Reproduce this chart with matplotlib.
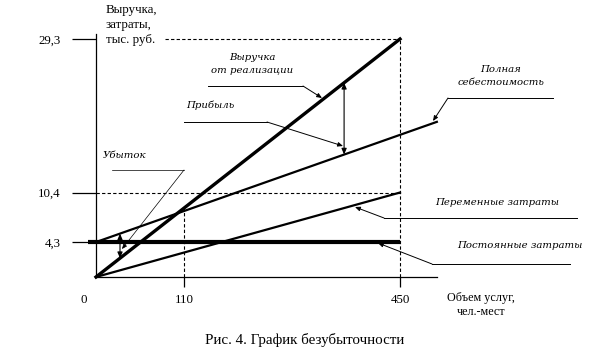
import numpy as np
import matplotlib
matplotlib.use("Agg")
import matplotlib.pyplot as plt
from matplotlib.transforms import ScaledTranslation

# ---------------- data ----------------
x_ticks = [0, 110, 450]
x_tick_labels = ["0", "110", "450"]
y_ticks = [4.3, 10.4, 29.3]
y_tick_labels = ["4,3", "10,4", "29,3"]

volume_max = 450          # объём услуг, чел.-мест
breakeven_volume = 110
revenue_max = 29.3        # выручка при 450
variable_max = 10.4       # переменные затраты при 450
fixed_costs = 4.3         # постоянные затраты
total_cost_x = [0, 508]   # полная себестоимость (схематично)
total_cost_y = [4.3, 19.1]
fixed_x = [-10, 450]
profit_arrow_x = 362
loss_arrow_x = 30

# ---------------- scale (schematic, non-uniform x) ----------------
KX = np.array([0.0, 110.0, 450.0])
KP = np.array([0.0, 88.0, 304.0])
s1 = (KP[1] - KP[0]) / (KX[1] - KX[0])
s2 = (KP[2] - KP[1]) / (KX[2] - KX[1])


def fwd(x):
    x = np.asarray(x, dtype=float)
    return np.where(x < KX[1], x * s1, KP[1] + (x - KX[1]) * s2)


def inv(p):
    p = np.asarray(p, dtype=float)
    return np.where(p < KP[1], p / s1, KX[1] + (p - KP[1]) / s2)


def on_line(x, x0, y0, x1, y1):
    """y on a segment that is straight on screen (interpolated in scale space)."""
    t = (fwd(x) - fwd(x0)) / (fwd(x1) - fwd(x0))
    return float(y0 + t * (y1 - y0))


W, H = 589, 361
fig = plt.figure(figsize=(W / 100, H / 100), dpi=100)
fig.patch.set_facecolor("white")
ax = fig.add_axes([96 / W, (H - 277) / H, 304 / W, 238 / H])
ax.set_xscale("function", functions=(fwd, inv))
ax.set_xlim(0, volume_max)
ax.set_ylim(0, revenue_max)
for sp in ax.spines.values():
    sp.set_visible(False)
ax.patch.set_visible(False)

serif = ["Liberation Serif", "DejaVu Serif"]
ital = ["DejaVu Serif", "Liberation Serif"]

# axes lines
ax.plot([0, 0], [0, 29.9], color="black", lw=0.9, clip_on=False)
ax.plot([0, 509], [0, 0], color="black", lw=0.9, clip_on=False)

# ticks
ax.set_yticks(y_ticks)
ax.set_yticklabels(y_tick_labels, fontfamily=serif, fontsize=9.3)
ax.tick_params(axis="y", length=17.3, width=0.9, pad=8, direction="out")
ax.set_xticks(x_ticks)
ax.set_xticklabels(x_tick_labels, fontfamily=serif, fontsize=9.3)
ax.tick_params(axis="x", length=7, width=0.9, pad=5, direction="out")
ax.xaxis.set_minor_locator(matplotlib.ticker.NullLocator())
t0 = ax.xaxis.get_major_ticks()[0]
t0.tick1line.set_visible(False)
t0.label1.set_transform(t0.label1.get_transform() +
                        ScaledTranslation(-0.12, 0, fig.dpi_scale_trans))

# dashed guide lines
dash = dict(color="black", lw=0.8, linestyle=(0, (3, 2)), clip_on=False)
ax.plot([86, volume_max], [revenue_max, revenue_max], **dash)
ax.plot([volume_max, volume_max], [0, revenue_max], **dash)
ax.plot([0, volume_max], [variable_max, variable_max], **dash)
be_y = on_line(breakeven_volume, 0, 0, volume_max, revenue_max)
ax.plot([breakeven_volume, breakeven_volume], [0, be_y], **dash)

# main lines
ax.plot(fixed_x, [fixed_costs, fixed_costs], color="black", lw=3.0,
        solid_capstyle="butt", clip_on=False)
ax.plot([0, volume_max], [0, variable_max], color="black", lw=1.6, clip_on=False)
ax.plot(total_cost_x, total_cost_y, color="black", lw=1.6, clip_on=False)
ax.plot([0, volume_max], [0, revenue_max], color="black", lw=2.4, clip_on=False)

# profit / loss double arrows
def tc(x):
    return on_line(x, total_cost_x[0], total_cost_y[0], total_cost_x[1], total_cost_y[1])


def rev(x):
    return on_line(x, 0, 0, volume_max, revenue_max)


dbl = dict(arrowstyle="<|-|>,head_length=0.35,head_width=0.15", color="black",
           lw=0.8, shrinkA=0, shrinkB=0)
ax.annotate("", xy=(profit_arrow_x, rev(profit_arrow_x)),
            xytext=(profit_arrow_x, tc(profit_arrow_x)), arrowprops=dbl,
            annotation_clip=False)
ax.annotate("", xy=(loss_arrow_x, tc(loss_arrow_x)),
            xytext=(loss_arrow_x, rev(loss_arrow_x)), arrowprops=dbl,
            annotation_clip=False)

# ---------- labels and leaders (figure pixel coordinates) ----------
def P(x, y):
    return (x / W, 1 - y / H)


def seg(x0, y0, x1, y1, lw=0.7):
    fig.add_artist(matplotlib.lines.Line2D([x0 / W, x1 / W], [1 - y0 / H, 1 - y1 / H],
                                           color="black", lw=lw,
                                           transform=fig.transFigure))


def leader(hx0, hx1, hy, tipx, tipy, from_right=True, lw=0.7):
    seg(hx0, hy, hx1, hy, lw)
    sx = hx1 if from_right else hx0
    fig.add_artist(matplotlib.patches.FancyArrowPatch(
        P(sx, hy), P(tipx, tipy), transform=fig.transFigure,
        arrowstyle="-|>,head_length=3,head_width=1.3", color="black", lw=lw,
        shrinkA=0, shrinkB=0))


ifs = 7.3
fig.text(*P(252, 64), "Выручка\nот реализации", ha="center", va="center",
         fontfamily=ital, style="italic", fontsize=ifs, linespacing=1.5)
leader(208, 303, 86, 322, 98)
fig.text(*P(186, 105), "Прибыль", ha="left", va="center",
         fontfamily=ital, style="italic", fontsize=ifs)
leader(184, 267, 122, 343, 146)
fig.text(*P(501, 76), "Полная\nсебестоимость", ha="center", va="center",
         fontfamily=ital, style="italic", fontsize=ifs, linespacing=1.5)
leader(448, 553, 98, 433, 121, from_right=False)
fig.text(*P(103, 155), "Убыток", ha="left", va="center",
         fontfamily=ital, style="italic", fontsize=ifs)
leader(112, 184, 170, 122, 249, lw=0.5)
fig.text(*P(435, 203), "Переменные затраты", ha="left", va="center",
         fontfamily=ital, style="italic", fontsize=ifs)
leader(384, 577, 218, 355, 207, from_right=False)
fig.text(*P(457, 246), "Постоянные затраты", ha="left", va="center",
         fontfamily=ital, style="italic", fontsize=ifs)
leader(432, 570, 264, 378, 243, from_right=False)

# axis titles
fig.text(*P(106, 25), "Выручка,\nзатраты,\nтыс. руб.", ha="left", va="center",
         fontfamily=serif, fontsize=9.3, linespacing=1.35)
fig.text(*P(481, 305), "Объем услуг,\nчел.-мест", ha="center", va="center",
         fontfamily=serif, fontsize=8.7, linespacing=1.3)
fig.text(*P(305, 340), "Рис. 4. График безубыточности", ha="center", va="center",
         fontfamily=serif, fontsize=10.8)

fig.savefig("out.png", dpi=100, facecolor="white")
